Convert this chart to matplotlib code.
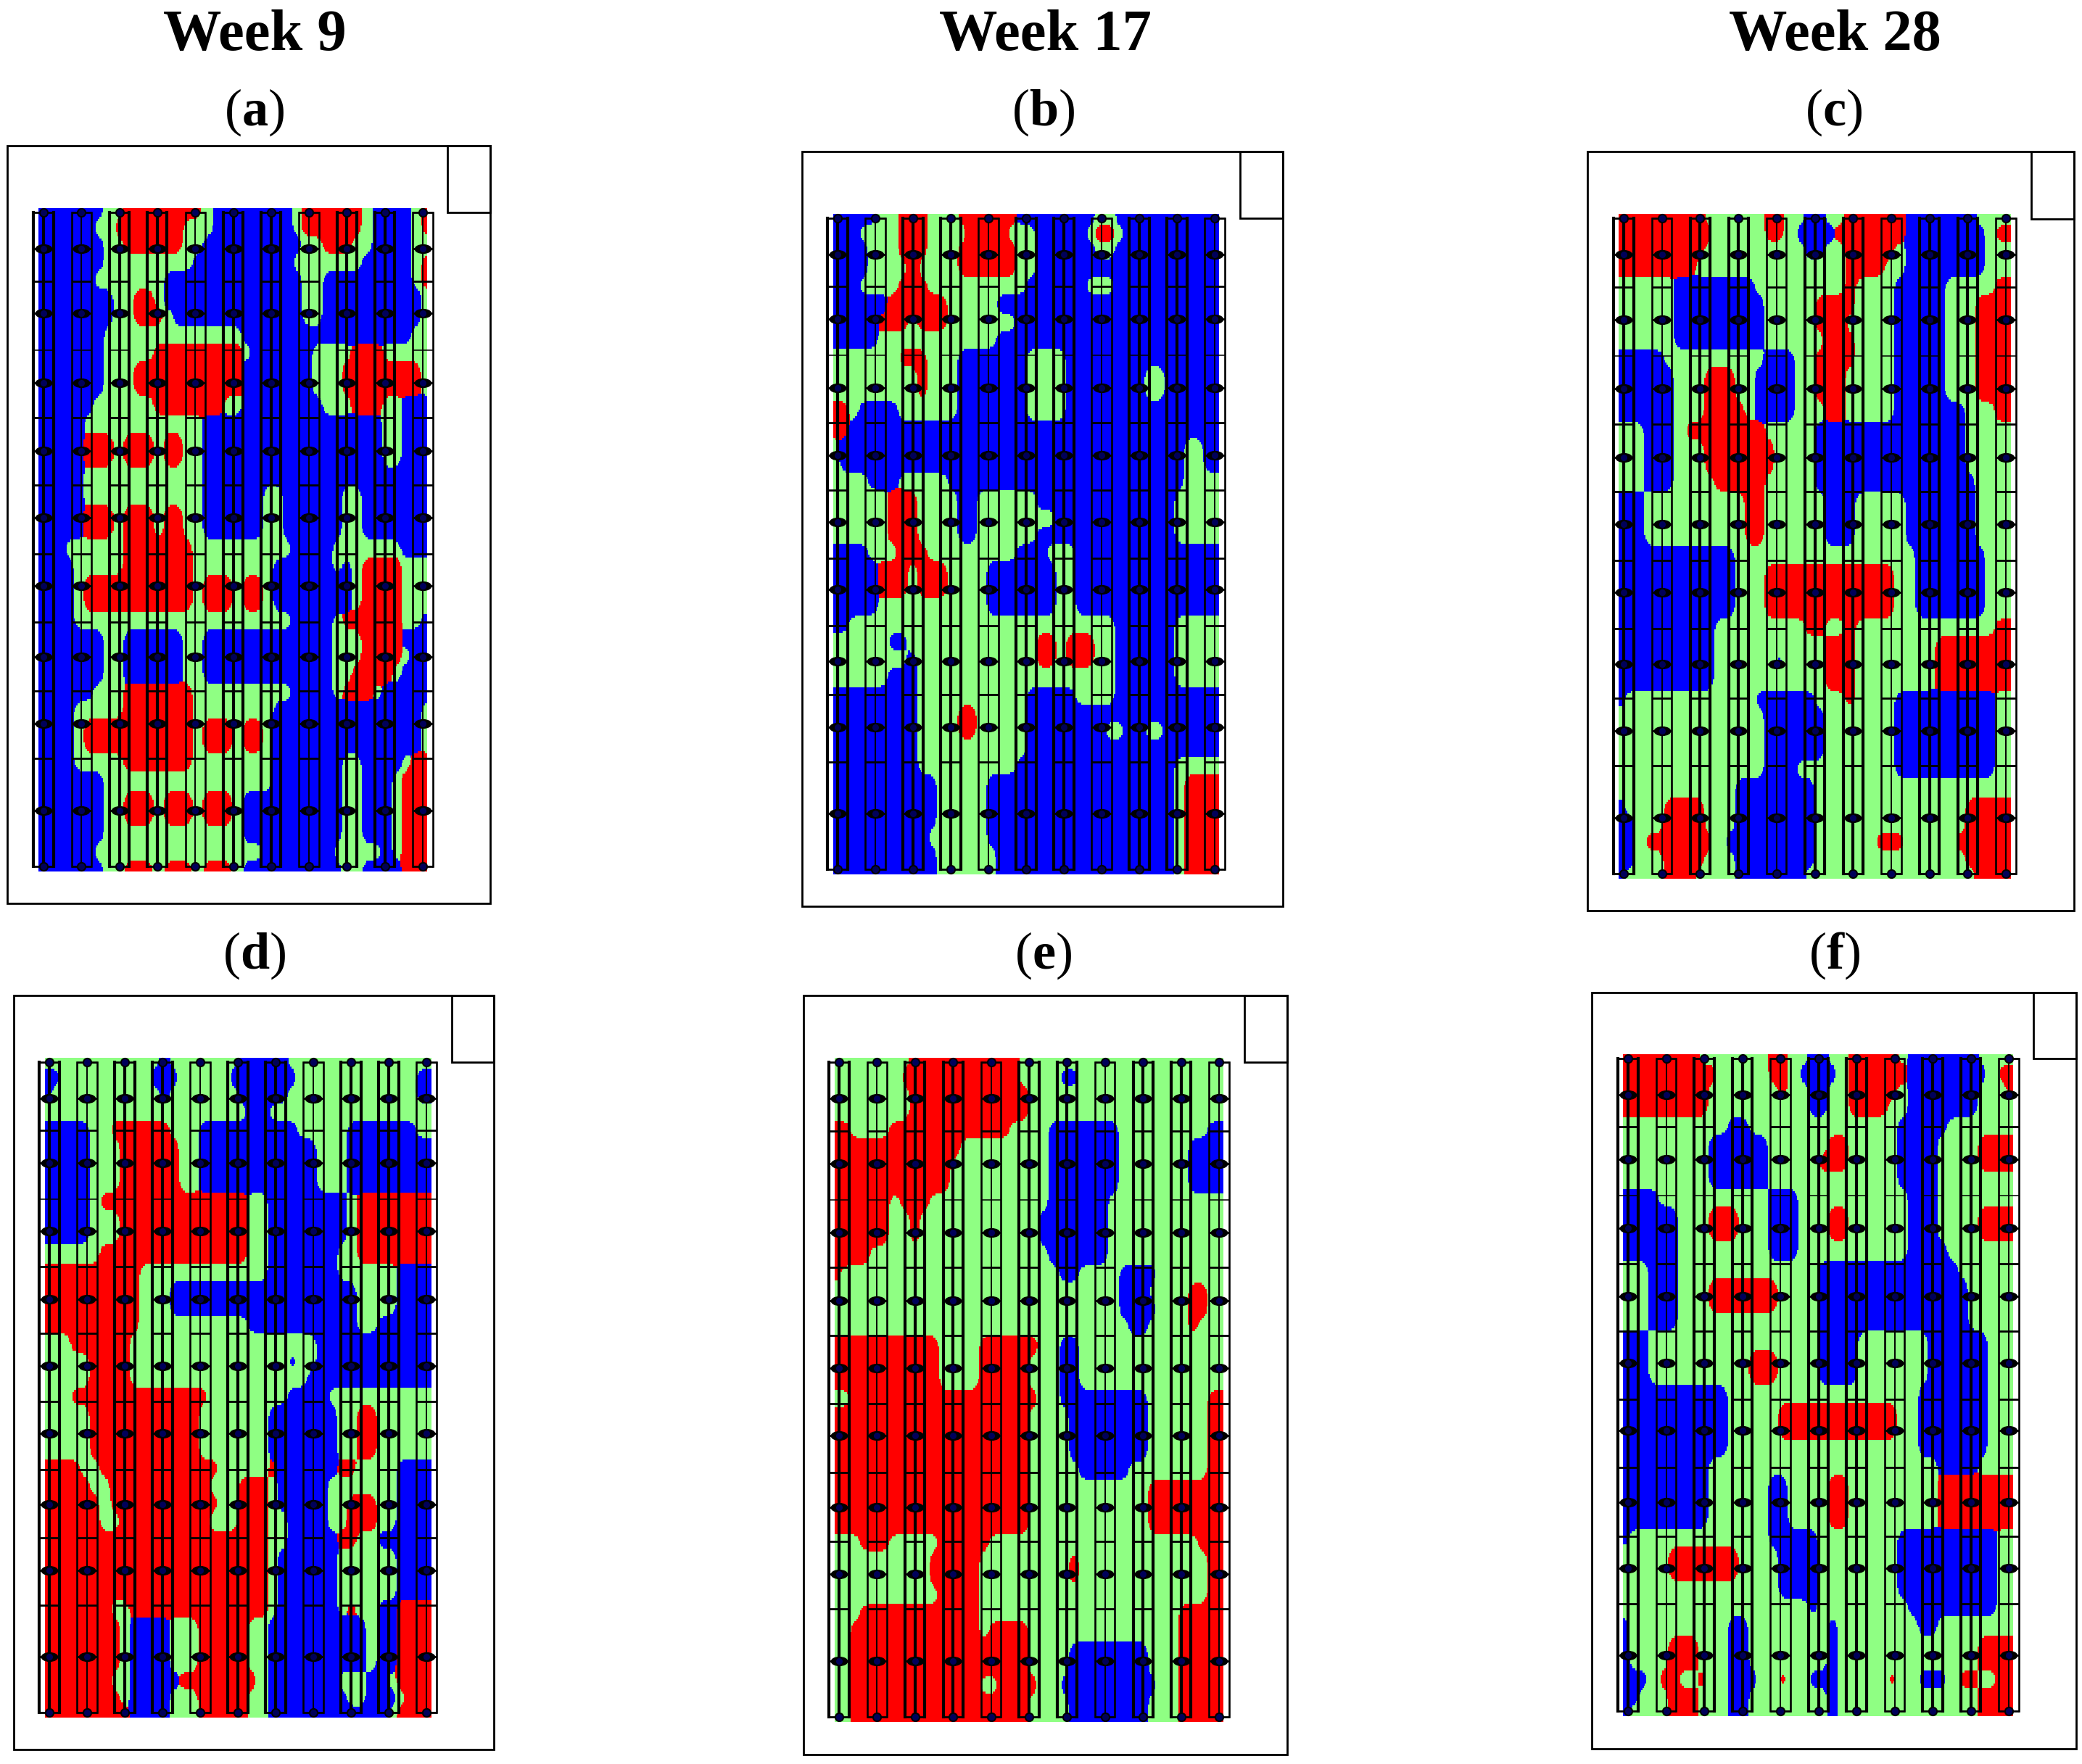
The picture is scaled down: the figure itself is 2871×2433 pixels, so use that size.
import numpy as np
import matplotlib
matplotlib.use("Agg")
import matplotlib.pyplot as plt
from matplotlib.colors import ListedColormap
from matplotlib.patches import Rectangle
from matplotlib.path import Path
from matplotlib.transforms import Affine2D

plt.rcParams['font.family'] = ['Liberation Serif', 'DejaVu Serif']
plt.rcParams['mathtext.fontset'] = 'custom'
plt.rcParams['mathtext.rm'] = 'Liberation Serif'
plt.rcParams['mathtext.bf'] = 'Liberation Serif:bold'

# class of each field cell, top row first: B low, G medium, R high
week9_a = """
BBBB BBBG GRRR RRRR RGBB BBBB BBGR RRRR RGBB BBGR
BBBB BBGG RRRR RRRG GGBB BBBB BBGR RRRR RGBB BBGR
BBBB BBBG GRRR RRRG GBBB BBBB BBBG GRRR GGBB BBGG
BBBB BBBG GGGG GGGG BBBB BBBB BBGG GGGG GBBB BBGR
BBBB BBGG GGGG GBBB BBBB BBBB BBBG GBBB BBBB BBGR
BBBB BBBB GGRR GBBB BBBB BBBB BBBG GBBB BBBB BBBG
BBBB BBBB GGRR RGBB BBBB BBBB BBBG GBBB BBBB BBBG
BBBB BBBG GGGG GGGG GGGG GBBB BBBB BBBB BBBB BBGG
BBBB BBBG GGGG RRRR RRRR RGBB BBBB GGGG RRRG GGGG
BBBB BBBG GGRR RRRR RRRR RBBB BBBB GGGR RRRR RRRG
BBBB BBBG GGRR RRRR RRRR RBBB BBBB GGGR RRRR RRRG
BBBB BBGG GGGG RRRR RRRG GBBB BBBB BGGG RRRG GBBB
BBBB BGGG GGGG GGGG GBBB BBBB BBBB BBBB BBBG GBBB
BBBB BRRR GRRR GRRG GBBB BBBB BBBB BBBB BBBG GBBB
BBBB BRRR GRRR GRRG GBBB BBBB BBBB BBBB BBBG GBBB
BBBB BGGG GGGG GGGG GBBB BBBB BBBB BBBB BBBB BBBB
BBBB BGGG GGGG GGGG GBBB BBBG GBBB BBBG GBBB BBBB
BBBB BRRR GRRR GRRG GBBB BBBG GBBB BBBG GBBB BBBB
BBBB BRRR GRRR GRRG GBBB BBBG GBBB BBBG GBBB BBBB
BBBG GGGG GRRR RRRR GGGG GGGG GGBB BBGG GGGG GBBB
BBBB GGGG GRRR RRRR GGGG GGGG BBBB BBGB GRRR RGGG
BBBB GRRR RRRR RRRR GRRR GRRG BBBB BBBB GRRR RGGG
BBBB GRRR RRRR RRRR GRRR GRRG BBBB BBBB GRRR RGGG
BBBB GGGG GGGG GGGG GGGG GGGG GGBB BBGR RRRR RGGB
BBBB BBBG GBBB BBBG GBBB BBBB BBBB BBGG GRRR RBBB
BBBB BBBG GBBB BBBG GBBB BBBB BBBB BBGG GRRR RGBB
BBBB BBBG GBBB BBBG GBBB BBBB BBBB BBGG RRRR GBBB
BBBB BBGG GRRR RRRR GGGG GGGG GGBB BBGR RRGB BBBB
BBBB GGGG GRRR RRRR GGGG GGGG BBBB BBBB BBBB BBBG
BBBB GRRR RRRR RRRR GRRR GRRG BBBB BBBB BBBB BBBG
BBBB GRRR RRRR RRRR GRRR GRRG BBBB BBBB BBBB BBBG
BBBB GGGG GRRR RRRR GGGG GGGG BBBB BBBG GBBB BGRR
BBBB BBBG GGGG GGGG GGGG GGGG BBBB BBBG GBBB GRRR
BBBB BBBG GRRR GRRR GRRR GBBB BBBB BBBG GBBB GRRR
BBBB BBBG GRRR GRRR GRRR GBBB BBBB BBBG GBBB GRRR
BBBB BBBG GGGG GGGG GGGG GBBB BBBB BBBG GBBB GRRR
BBBB BBGG GGGG GGGG GGGG GGGB BBBB BBGG GGGB GRRR
BBBB BBBG GRRR GRRR GRRR GBBB BBBB BBBG GBBB BRRR
"""

week17_b = """
BBBB BGGR RRGG GRRR RRRB BBBB BBBG GBBB BBBB BBBB
BBBG GGGR RRGG GGRR RRGG GBBB BBGR RGBB BBBB BBBB
BBBB GGGR RRGG GRRR RRRG GBBB BBBG GBBB BBBB BBBB
BBBB GGGG RGGG GRRR RRRG GBBB BBBB BBBB BBBB BBBB
BBBG GGGR RRGG GGGG GGGG BBBB BBGG GBBB BBBB BBBB
BBBB BBRR RRRR GGGG GBBB BBBB BBBB BBBB BBBB BBBB
BBBB BRRR GRRR GGGG GGGB BBBB BBBB BBBB BBBB BBBB
BBBB BGGG GGGG GGGG GBBB BBBB BBBB BBBB BBBB BBBB
GGGG GGGR RRGG GBBB BBBB GGGG BBBB BBBB BBBB BBBB
GGGG GGGG GRGG GBBB BBBB GGGG BBBB BBBB GGBB BBBB
GGGG GGGG GRGG GBBB BBBB GGGG BBBB BBBB GGBB BBBB
RRGB BBBG GGGG GBBB BBBB GGGG BBBB BBBB BBBB BBBB
RRBB BBBB BBBB BBBB BBBB BBBB BBBB BBBB BBBB BBBB
GBBB BBBB BBBB BBBB BBBB BBBB BBBB BBBB BBBB GGBB
GBBB BBBB BBBB BBBB BBBB BBBB BBBB BBBB BBBB GGBB
GGGG BBBG GGGG BBBB BBBB BBBB BBBB BBBB BBBB GGGG
GGGG GGRR RGGG GBBG GGGG GBBB BBBB BBBB BBBG GGGG
GGGG GGRR RGGG GBBG GGGG GGGB BBBB BBBB BBBG GGGG
GGGG GGRR RGGG GBBG GGGG GBBB BBBB BBBB BBBG GGGG
BBBB GGGR RRGG GGGG GGGB BBGG GBBB BBBB BBBB BBBB
BBBB BRRR GRRR GGGG BBBB BBBG GBBB BBBB BBBB BBBB
BBBB BRRR GRRR GGGG BBBB BBBG GBBB BBBB BBBB BBBB
BBBB BGGG GGGG GGGG BBBB BBBG GBBB BBBB BBBB BBBB
BBGG GGGG GGGG GGGG GGGG GGGG GGGG GBBB BBBG GGGG
GGGG GGBB GGGG GGGG GGGG GRRG RRRG GBBB BBBG GGGG
GGGG GGGG BGGG GGGG GGGG GRRG RRRG GBBB BBBG GGGG
GGGG GGBB BGGG GGGG GGGG GGGG GGGG GBBB BBBG GGGG
BBBB BBBB BGGG GGGG GGGG BBBB BGGG GBBB BBBB BBBB
BBBB BBBB BGGG GRRG GGGG BBBB BBBB BBBB BBBB BBBB
BBBB BBBB BGGG GRRG GGGG BBBB BBBB GGBB GGBB BBBB
BBBB BBBB BGGG GGGG GGGG BBBB BBBB BBBB BBBB BBBB
BBBB BBBB BGGG GGGG GGGB BBBB BBBB BBBB BBBG GGGG
BBBB BBBB BBBG GGGG BBBB BBBB BBBB BBBB BBBG RRRR
BBBB BBBB BBBG GGGG BBBB BBBB BBBB BBBB BBBG RRRR
BBBB BBBB BBBG GGGG BBBB BBBB BBBB BBBB BBBG RRRR
BBBB BBBB BBGG GGGG BBBB BBBB BBBB BBBB BBBG RRRR
BBBB BBBB BBBG GGGG GBBB BBBB BBBB BBBB BBBG RRRR
BBBB BBBB BBBG GGGG GBBB BBBB BBBB BBBB BBBG RRRR
"""

week28_c = """
RRRR RRRR RGGG GGGR RGGB BGGR RRRR RBBB BBBB GGGG
RRRR RRRR RRGG GGGR RGBB BBRR RRRR RBBB BBBB BGRR
RRRR RRRR RGGG GGGG GGGB BGGR RRRR GBBB BBBB BGGG
RRRR RRRR GGGG GGGG GGGG GGGR RRRG GBBB BBBB BGGG
GGGG GGBB BBBB BBGG GGGG GGGR GGGG BBBB BGGG GGRR
GGGG GGBB BBBB BBBG GGGG RRRR GGGG BBBB BGGG RRRR
GGGG GGBB BBBB BBBG GGGG RRRG GGGG BBBB BGGG RRRR
GGGG GGBB BBBB BBBG GGGG GRRR GGGG BBBB BGGG RRRR
BBBB BGGG GGGG GGGB BBGG RRRR GGGG BBBB BGGG RRRR
BBBB BBGG GRRR GGBB BBGG RRRG GGGG BBBB BGGG RRRR
BBBB BBGG GRRR GGBB BBGG RRRG GGGG BBBB BGGG RRRR
BBBB BBGG GRRR RGBB BBGG GRRG GGGG BBBB BBBG GGRR
GGGB BBGR RRRR RRRG GGGG BBBB BBBB BBBB BBBG GGGG
GGGB BBGG GRRR RRRR GGGG BBBB BBBB BBBB BBBG GGGG
GGGB BBGG GRRR RRRR GGGG BBBB BBBB BBBB BBBG GGGG
GGGB BBGG GGRR RRRG GGGG BBBB BBBB BBBB BBBB GGGG
BBBG GGGG GGGG GRRG GGGG GBBB GGGG GBBB BBBB GGGG
BBBG GGGG GGGG GRRG GGGG GBBB GGGG GBBB BBBB GGGG
BBBG GGGG GGGG GRRG GGGG GBBB GGGG GBBB BBBB GGGG
BBBB BBBB BBBB GGGG GGGG GGGG GGGG GGBB BBBB BGGG
BBBB BBBB BBBB GGGR RRRR RRRR RRRR GGBB BBBB BGGG
BBBB BBBB BBBB GGGR RRRR RRRR RRRR GGBB BBBB BGGG
BBBB BBBB BBBB GGGR RRRR RRRR RRRR GGBB BBBB BGGG
BBBB BBBB BBGG GGGG GGGR RGGR GGGG GGGG GGGG GGRR
BBBB BBBB BBGG GGGG GGGG GRRR GGGG GGGG RRRR RRRR
BBBB BBBB BBGG GGGG BGGG GRRR GGGG GGGG RRRR RRRR
BBBB BBBB BBGG GGGG GGGG GRRR GGGG GGGG RRRR RRRR
BGGG GGGG GGGG GGBB BBBB GGGR GGGG BBBB BBBB BBGG
GGGG GGGG GGGG GGGB BBBB BGGG GGGG BBBB BBBB BBGG
GGGG GGGG GGGG GGGB BBBB BGGG GGGG BBBB BBBB BBGG
GGGG GGGG GGGG GGGB BBBB BGGG GGGG BBBB BBBB BBGG
GGGG GGGG GGGG GGGB BBGG GGGG GGGG BBBB BBBB BBGG
GGGG GGGG GGGG BBBB BBBB GGGG GGGG GGGG GGGG GGGG
BGGG GRRR RGGG BBBB BBBB GGGG GGGG GGGG GGGR RRRR
BBGG GRRR RGGG BBBB BBBB GGGG GGGG GGGG GGGR RRRR
BBGR RRRR RRGB BBBB BBBB GGGG GGRR RGGG GGRR RRRR
BBGG GRRR RGGG BBBB BBBB GGGG GGGG GGGG GGGR RRRR
BGGG GRRR GGGG BBBB BBBG GGGG GGGG GGGG GGGG RRRR
"""

week9_d = """
GGGG GGGG GGGG BGGG GGGG BBBB BGGG GGGG GGGG GGGG
BBGG GGGG GGGB BBGG GGGB BBBB BBGG GGGG GGGG GGBB
BGGG GGGG GGGG BGGG GGGG BBBB BGGG GGGG GGGG GGBB
GGGG GGGG GGGG GGGG GGGG GBBG GGGG GGGG GGGG GGGG
BBBB BGGR RRRR RGGG BBBB BBBB BBGG GGGB BBBB BBGG
BBBB BGGG RRRR RRGG BBBB BBBB BBBB GGGB BBBB BBBB
BBBB BGGG RRRR RRGG BBBB BBBB BBBB GGGB BBBB BBBB
BBBB BGGG RRRR RRGG BBBB BBBB BBBB GGGB BBBB BBBB
BBBB BGRR RRRR RRRR RRRR RGGB BBBB BBBG RRRR RRRR
BBBB BGGG RRRR RRRR RRRR RGGB BBBB BBBG RRRR RRRR
BBBB BGGG RRRR RRRR RRRR RGGB BBBB BBBG RRRR RRRR
GGGG GGRR RRRR RRRR RRRR RGGB BBBB BBGG RRRR RRRR
RRRR RRRR RRGG GGGG GGGG GGGB BBBB BBGG GGGG BBBB
RRRR RRRR RRGG GBBB BBBB BBBB BBBB BBBB GGGG BBBB
RRRR RRRR RRGG GBBB BBBB BBBB BBBB BBBB GGGG BBBB
RRRR RRRR RRGG GGGG GGGG GBBB BBBB BBBB GGBB BBBB
GGGR RRRR RGGG GGGG GGGG GGGG GGGG BBBB BBBB BBBB
GGGG GRRR RGGG GGGG GGGG GGGG GBGG BBBB BBBB BBBB
GGGG GRRR RGGG GGGG GGGG GGGG GGGB BBBB BBBB BBBB
GGGR RRRR RRRR RRRR RGGG GGGG GBBB BGGG GGGG GGGG
GGGG GRRR RRRR RRRR GGGG GGGB BBBB BBGG RRGG GGGG
GGGG GRRR RRRR RRRR GGGG GGGB BBBB BBGG RRGG GGGG
GGGG GRRR RRRR RRRR GGGG GGGB BBBB BBGG RRGG GGGG
RRRR GGRR RRRR RRRR RRGG GGGR BBBB BBRR GGGG BBBB
RRRR RGGR RRRR RRRR RGGG RRRG BBBB BGGG GGGG BBBB
RRRR RRGR RRRR RRRR RRGG RRRG BBBB BGGR RRGG BBBB
RRRR RRGG RRRR RRRR RGGG RRRG GBBB BGGR RRGG BBBB
RRRR RRRR RRRR RRRR RRRR RRRG GBBB BBRR GGBB BBBB
RRRR RRRR RRRR RRRR RRRR RRRG BBBB BBGG GGGG BBBB
RRRR RRRR RRRR RRRR RRRR RRRG BBBB BBGG GGGG BBBB
RRRR RRRR RRRR RRRR RRRR RRRG BBBB BBGG GGGG BBBB
RRRR RRRG GRRR RRRR RRRR RRRG BBBB BBGR GGBB RRRR
RRRR RRRR GBBB BGGG RRRR RGGB BBBB BBBB BGBB RRRR
RRRR RRRR GBBB BGGG RRRR RGGB BBBB BBBB BGBB RRRR
RRRR RRRR GBBB BGGG RRRR RGGB BBBB BBBB BGBB RRRR
RRRR RRRG GBBB BBRR RRRR RRGB BBBB BBGG GBBG RRRR
RRRR RRRR GBBB BGGG RRRR RGGB BBBB BBBG GBBB GRRR
RRRR RRRR RBBB BGGG RRRR RGGB BBBB BBBB BBBG RRRR
"""

week17_e = """
GGGG GGGG RRRR RRRR RRRG GGGG GGGG GGGG GGGG GGGG
GGGG GGGR RRRR RRRR RRRG GGGB BGGG GGGG GGGG GGGG
GGGG GGGG RRRR RRRR RRRR GGGG GGGG GGGG GGGG GGGG
GGGG GGGG RRRR RRRR RRRR GGGG GGGG GGGG GGGG GGGG
RRGG GGRR RRRR RRRR RRGG GGBB BBBB BGGG GGGG GGBB
RRRR RRRR RRRR RGGG GGGG GGBB BBBB BGGG GGGG BBBB
RRRR RRRR RRRR GGGG GGGG GGBB BBBB BGGG GGGG BBBB
RRRR RRRR RRRR GGGG GGGG GGBB BBBB BGGG GGGG BBBB
RRRR RRGR RRGG GGGG GGGG GGBB BBBB GGGG GGGG GGGG
RRRR RRGG RGGG GGGG GGGG GBBB BBBB GGGG GGGG GGGG
RRRR RRGG RGGG GGGG GGGG GBBB BBBB GGGG GGGG GGGG
RRRR GGGG GGGG GGGG GGGG GGBB BBBB GGGG GGGG GGGG
RGGG GGGG GGGG GGGG GGGG GGGB BGGG GBBB BGGG GGGG
GGGG GGGG GGGG GGGG GGGG GGGG GGGG GBBB GGGG RRGG
GGGG GGGG GGGG GGGG GGGG GGGG GGGG GBBB BGGG RRGG
GGGG GGGG GGGG GGGG GGGG GGGG GGGG GGBB GGGG RGGG
RRRR RRRR RRRG GGGR RRRR RGGB BGGG GGGG GGGG GGGG
RRRR RRRR RRRG GGGR RRRR GGGB BGGG GGGG GGGG GGGG
RRRR RRRR RRRG GGGR RRRR GGGB BGGG GGGG GGGG GGGG
GGRR RRRR RRRR RRRR RRRR RGGB BBBB BBBB GGGG GGRR
RRRR RRRR RRRR RRRR RRRR GGGG BBBB BBBB GGGG GGRR
RRRR RRRR RRRR RRRR RRRR GGGG BBBB BBBB GGGG GGRR
RRRR RRRR RRRR RRRR RRRR GGGG BBBB BBBB GGGG GGRR
RRRR RRRR RRRR RRRR RRRR GGGG GBBB BBGG GGGG GGRR
RRRR RRRR RRRR RRRR RRRR GGGG GGGG GGGG RRRR RRRR
RRRR RRRR RRRR RRRR RRRR GGGG GGGG GGGG RRRR RRRR
RRRR RRRR RRRR RRRR RRRR GGGG GGGG GGGG RRRR RRRR
GGGR RRGG GGGR RRRR GGGG GGGG GGGG GGGG GGGG GRRR
GGGG GGGG GGRR RRRG GGGG GGGG RGGG GGGG GGGG GGRR
GGGG GGGG GGRR RRRG GGGG GGGG RGGG GGGG GGGG GGRR
GGGG GGGG GGGR RRRG GGGG GGGG GGGG GGGG GGGG GGRR
GGGR RRRR RRRR RRRG GGGG GGGG GGGG GGGG GGGR RRRR
GGRR RRRR RRRR RRRG RRRR GGGG GGGG GGGG GGGR RRRR
GGRR RRRR RRRR RRRR RRRR GGGG BBBB BBBB GGGR RRRR
GGRR RRRR RRRR RRRR RRRR GGGG BBBB BBBB GGGR RRRR
GGRR RRRR RRRR RRRG GRRR RGGB BBBB BBBB BGGR RRRR
GGRR RRRR RRRR RRRR RRRR GGGG BBBB BBBB GGGR RRRR
GGRR RRRR RRRR RRRR RRRR GGGG BBBB BBBB GGGR RRRR
"""

week28_f = """
RRRR RRRR GGGG GGGR RGGB BGGR RRRR GBBB BBBB GGGG
RRRR RRRR RRGG GGGR RGBB BBGR RRRR RBBB BBBB BGRR
RRRR RRRR RGGG GGGG RGGB BGGR RRRR GBBB BBBB GGGR
RRRR RRRR RGGG GGGG GGGB BGGR RRRG GBBB BBBB GGGG
GGGG GGGG GGGB BGGG GGGG GGGG GGGG BBBB BGGG GGGG
GGGG GGGG GBBB BBBG GGGG GRRG GGGG BBBB GGGG RRRR
GGGG GGGG GBBB BBBG GGGG RRRG GGGG BBBB GGGG RRRR
GGGG GGGG GBBB BBBG GGGG GGGG GGGG BBBB GGGG GGGG
BBBB GGGG GGGG GGGB BBGG GGGG GGGG GBBB GGGG GGGG
BBBB BBGG GRRR GGGB BBGG GRRG GGGG GBBB GGGG RRRR
BBBB BBGG GRRR GGGB BBGG GRRG GGGG GBBB GGGG RRRR
BBBB BBGG GGGG GGGB BBGG GGGG GGGG GBBB BGGG GGGG
GGGB BBGG GGGG GGGG GGGG BBBB BBBB BBBB BBGG GGGG
GGGB BBGG GRRR RRRR GGGG BBBB BBBB BBBB BBBG GGGG
GGGB BBGG GRRR RRRR GGGG BBBB BBBB BBBB BBBG GGGG
GGGB BBGG GGGG GGGG GGGG BBBB BBBB BBBB BBBG GGGG
BBBG GGGG GGGG GGGG GGGG BBBB GGGG GGGB BBBB BGGG
BBBG GGGG GGGG GRRR GGGG BBBB GGGG GGGB BBBB BGGG
BBBG GGGG GGGG GRRR GGGG BBBB GGGG GGGB BBBB BGGG
BBBB BBBB BBBG GGGG GGGG GGGG GGGG GGBB BBBB BGGG
BBBB BBBB BBBG GGGG RRRR RRRR RRRR GGBB BBBB BGGG
BBBB BBBB BBBG GGGG RRRR RRRR RRRR GGBB BBBB BGGG
BBBB BBBB BBBG GGGG GGGG GGGG GGGG GGBB BBBB BGGG
BBBB BBBB BGGG GGGG GGGG GGGG GGGG GGGG BBBB GGGG
BBBB BBBB BGGG GGGB BGGG GRRG GGGG GGGG RRRR RRRR
BBBB BBBB BGGG GGGB BGGG GRRG GGGG GGGG RRRR RRRR
BBBB BBBB BGGG GGGB BGGG GRRG GGGG GGGG RRRR RRRR
BGGG GGGG GGGG GGGB BBBB GGGG GGGG BBBB BBBB BBGG
GGGG GRRR RRRR GGGG BBBB GGGG GGGG BBBB BBBB BBGG
GGGG GRRR RRRR GGGG BBBB GGGG GGGG BBBB BBBB BBGG
GGGG GGGG GGGG GGGG BBBB GGGG GGGG BBBB BBBB BBGG
GGGG GGGG GGGG GGGG GGGB GGGG GGGG GBBB BBBB BBGG
BGGG GGGG GGGB BGGG GGGG GBGG GGGG GGBB GGGG GGGG
BGGG GRRR GGGB BGGG GGGG GBGG GGGG GGGG GGGG RRRR
BGGG GRRR GGGB BGGG GGGG GBGG GGGG GGGG GGGG RRRR
BBBG RRGG RGGB BBGG RGGB BBGG GGGR GGBB BGRR GGRR
BBGG GRRR GGGB BGGG GGGG GBGG GGGG GGGG GGGG RRRR
BGGG GRRR GGGB BGGG GGGG GBGG GGGG GGGG GGGG RRRR
"""

panel_grids = [week9_a, week17_b, week28_c, week9_d, week17_e, week28_f]
panel_letters = ['a', 'b', 'c', 'd', 'e', 'f']
week_titles = ['Week 9', 'Week 17', 'Week 28']

class_value = {'B': 0, 'G': 1, 'R': 2}
class_colors = ['#0000ff', '#8fff83', '#ff0000']

# geometry of each panel in image pixels
outer_boxes = [(10, 201, 676, 1246), (1106, 209, 1769, 1250), (2189, 209, 2860, 1256),
               (19, 1373, 681, 2413), (1108, 1373, 1775, 2420), (2195, 1369, 2863, 2412)]
corner_left = [617, 1710, 2801, 623, 1716, 2804]
corner_bottom = [293, 301, 302, 1465, 1465, 1460]
field_boxes = [(53, 287, 589, 1202), (1149, 295, 1681, 1206), (2232, 295, 2773, 1212),
               (62, 1459, 595, 2369), (1151, 1459, 1687, 2375), (2238, 1454, 2776, 2367)]
first_col = [60, 1155, 2239, 68, 1157, 2245]
last_col = [583, 1675, 2766, 588, 1681, 2770]

# sampling rows and cross lines, as share of the field height
point_rows = [0.007, 0.061, 0.159, 0.263, 0.366, 0.467, 0.569, 0.677, 0.777, 0.908, 0.992]
cross_rows = [0.11, 0.214, 0.316, 0.418, 0.521, 0.624, 0.728, 0.83]
thick_cols = [1, 0, 1, 1, 0, 1, 1, 0, 1, 1, 0]


def blur(a, n):
    # three box passes along both axes to round off the cell corners
    kernel = np.ones(n) / n
    for axis in (0, 1):
        for _ in range(3):
            pad = [(n // 2, n // 2) if k == axis else (0, 0) for k in (0, 1)]
            a = np.apply_along_axis(lambda v: np.convolve(v, kernel, mode='valid'), axis,
                                    np.pad(a, pad, mode='edge'))
    return a


def field_classes(text):
    rows = [r.replace(' ', '') for r in text.strip().splitlines()]
    grid = np.array([[class_value[c] for c in r.ljust(40, r[-1])[:40]] for r in rows])
    fine_y = np.round(np.linspace(0, grid.shape[0] - 1, grid.shape[0] * 8)).astype(int)
    fine_x = np.round(np.linspace(0, grid.shape[1] - 1, grid.shape[1] * 8)).astype(int)
    fine = grid[np.ix_(fine_y, fine_x)]
    return np.argmax([blur((fine == k).astype(float), 7) for k in range(3)], axis=0)


W, H = 2871, 2433
fig = plt.figure(figsize=(W / 100, H / 100), dpi=100)
ax = fig.add_axes([0, 0, 1, 1])

flat = Path.unit_circle().transformed(Affine2D().scale(1.7, 0.9))
cmap = ListedColormap(class_colors)

for n in range(6):
    x0, y0, x1, y1 = field_boxes[n]
    ax.imshow(field_classes(panel_grids[n]), extent=(x0, x1, y1, y0), cmap=cmap, vmin=0, vmax=2,
              aspect='auto', interpolation='nearest', zorder=1)

    ox0, oy0, ox1, oy1 = outer_boxes[n]
    ax.add_patch(Rectangle((ox0, oy0), ox1 - ox0, oy1 - oy0, fill=False, ec='black', lw=2, zorder=5))
    ax.add_patch(Rectangle((corner_left[n], oy0), ox1 - corner_left[n], corner_bottom[n] - oy0,
                           fill=False, ec='black', lw=2, zorder=5))

    cols = np.linspace(first_col[n], last_col[n], 11)
    half = 13.6
    fh = y1 - y0
    top = y0 + point_rows[0] * fh
    bottom = y0 + point_rows[-1] * fh
    for cx, thick in zip(cols, thick_cols):
        lw = 3 if thick else 1.9
        ax.plot([cx - half, cx - half], [top, bottom], color='black', lw=lw, zorder=3)
        ax.plot([cx + half, cx + half], [top, bottom], color='black', lw=lw, zorder=3)
        ax.plot([cx, cx], [top, bottom], color='black', lw=lw if thick else 1.4, zorder=3)
        for fr in point_rows + cross_rows:
            yy = y0 + fr * fh
            ax.plot([cx - half, cx + half], [yy, yy], color='black',
                    lw=1.1 if fr == 0.214 else 2, solid_capstyle='butt', zorder=3)
        for k, fr in enumerate(point_rows):
            yy = y0 + fr * fh
            if 0 < k < 10:
                ax.plot(cx, yy, marker=flat, ms=16, color='black', zorder=4)
            ax.plot(cx, yy, marker='o', ms=8, mfc='#00005a', mec='black', mew=1.5, zorder=4)

# headings
for cx, title in zip([351, 1441, 2530], week_titles):
    ax.text(cx, 50, title, ha='center', va='center', fontsize=58, fontweight='bold')
label_pos = [(351, 155), (1439, 155), (2529, 155), (351, 1318), (1439, 1318), (2529, 1318)]
for (lx, ly), letter in zip(label_pos, panel_letters):
    ax.text(lx, ly, r'$\mathrm{(}\mathbf{' + letter + r'}\mathrm{)}$', ha='center', va='center', fontsize=52)

ax.set_xlim(0, W)
ax.set_ylim(H, 0)
ax.axis('off')
fig.savefig('out.png', dpi=100)
